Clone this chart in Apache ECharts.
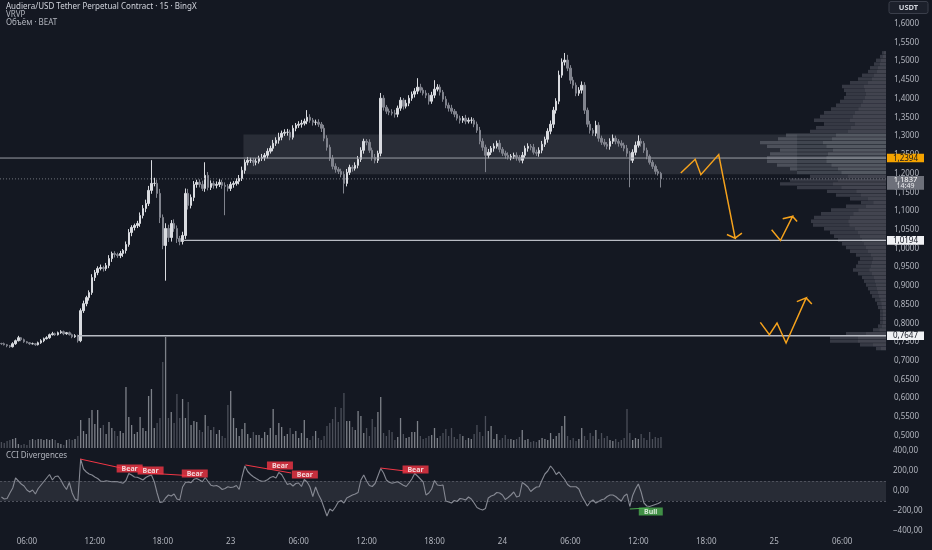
<!DOCTYPE html>
<html><head><meta charset="utf-8">
<script src="https://cdn.jsdelivr.net/npm/echarts@6/dist/echarts.min.js"></script>
<style>html,body{margin:0;padding:0;background:#141822;}#c{width:932px;height:550px;}</style>
</head><body><div id="c"></div>
<script>
// ---------- DATA ----------
const firstOpen = 0.7440;
const closes = [
0.7435,0.7408,0.7381,0.7354,0.7435,0.7515,0.7595,0.7542,0.7488,0.7461,
0.7435,0.7435,0.7408,0.7461,0.7515,0.7568,0.7595,0.7675,0.7702,0.7675,
0.7729,0.7756,0.7702,0.7729,0.7675,0.7622,0.7649,0.7515,0.8318,0.8505,
0.8666,0.8800,0.9201,0.9335,0.9442,0.9469,0.9442,0.9522,0.9710,0.9844,
0.9817,0.9790,0.9844,0.9924,1.0085,1.0406,1.0540,1.0593,1.0647,1.0861,
1.1048,1.1182,1.1530,1.1717,1.1717,1.1450,1.0807,1.0058,1.0513,1.0272,
1.0647,1.0513,1.0245,1.0165,1.0325,1.1450,1.1128,1.1343,1.1690,1.1744,
1.1690,1.1583,1.1931,1.1610,1.1717,1.1664,1.1690,1.1744,1.1664,1.1637,
1.1583,1.1690,1.1717,1.1771,1.1851,1.2065,1.2279,1.2333,1.2333,1.2279,
1.2306,1.2386,1.2413,1.2467,1.2574,1.2654,1.2788,1.2868,1.2949,1.3056,
1.3082,1.3082,1.2949,1.3189,1.3270,1.3297,1.3323,1.3377,1.3484,1.3404,
1.3350,1.3350,1.3297,1.3189,1.2922,1.2681,1.2386,1.2172,1.2092,1.2038,
1.1958,1.1717,1.2012,1.2146,1.2119,1.2199,1.2360,1.2601,1.2841,1.2815,
1.2601,1.2413,1.2333,1.2520,1.3992,1.3752,1.3644,1.3618,1.3591,1.3564,
1.3725,1.3939,1.3778,1.3859,1.3992,1.4100,1.4180,1.4287,1.4207,1.4126,
1.4073,1.3912,1.4073,1.4233,1.4287,1.4153,1.3966,1.3805,1.3725,1.3644,
1.3564,1.3457,1.3404,1.3457,1.3377,1.3404,1.3404,1.3297,1.3136,1.2841,
1.2681,1.2467,1.2547,1.2654,1.2708,1.2788,1.2627,1.2520,1.2467,1.2413,
1.2440,1.2467,1.2413,1.2333,1.2467,1.2654,1.2708,1.2681,1.2547,1.2520,
1.2601,1.2761,1.2895,1.3109,1.3297,1.3671,1.3912,1.4608,1.4956,1.5010,
1.4795,1.4474,1.4340,1.4126,1.4207,1.4340,1.3671,1.3297,1.3136,1.3056,
1.3270,1.2922,1.2815,1.2761,1.2708,1.2841,1.2922,1.2841,1.2788,1.2734,
1.2654,1.2520,1.2333,1.2547,1.2734,1.2841,1.2788,1.2601,1.2440,1.2279,
1.2172,1.2038,1.1985,1.1837];
// wick sizes in 0.001 price units
const wickUp = [
2,3,2,2,4,3,5,2,3,2,2,3,2,3,4,3,4,3,5,3,
3,4,3,2,3,3,4,3,6,8,5,6,9,7,6,8,5,7,9,5,
6,5,7,4,8,9,6,5,7,8,9,10,12,62,15,10,12,8,14,10,
9,11,8,7,10,13,12,8,9,7,8,10,35,9,8,7,8,9,7,8,
6,7,6,8,9,10,8,9,7,6,8,7,9,6,8,7,9,8,12,7,
8,9,7,8,6,8,9,7,19,8,6,7,8,6,9,8,7,9,8,6,
7,8,9,7,6,8,9,8,7,6,8,7,9,7,14,8,6,7,8,9,
7,8,6,9,8,7,8,24,9,7,8,6,9,24,8,7,6,8,7,9,
6,8,7,6,9,7,8,6,7,9,8,7,9,6,8,7,9,6,7,8,
6,7,8,6,9,7,8,6,9,7,8,9,7,8,10,9,8,12,10,19,
14,8,9,7,8,10,8,7,9,6,12,8,7,9,6,8,10,7,6,8,
7,9,6,8,10,16,8,6,7,5,6,5,6,4];
const wickDn = [
3,2,4,3,2,3,2,4,3,2,3,2,3,2,3,4,2,3,2,3,
2,3,4,3,2,4,3,5,4,6,7,8,6,9,7,5,8,6,7,9,
8,6,7,9,8,6,10,8,7,9,8,10,7,9,8,12,15,10,94,12,
11,9,12,10,8,9,11,8,10,9,8,7,9,8,7,9,8,7,9,77,
8,7,9,6,8,7,9,8,7,10,8,6,7,9,8,6,8,7,9,8,
7,9,8,6,8,7,9,6,8,7,9,8,7,10,8,9,7,8,9,7,
8,27,8,7,9,6,8,7,9,8,7,9,8,7,8,9,7,8,6,9,
8,7,9,6,8,7,9,8,7,6,8,9,7,8,6,9,7,8,9,7,
8,6,9,7,8,6,9,8,7,8,9,45,8,7,9,6,8,7,9,6,
8,7,9,6,8,7,9,8,6,7,9,8,7,9,8,10,9,8,7,9,
8,10,9,8,7,9,10,8,9,7,8,9,7,6,8,9,7,8,9,7,
8,9,72,7,8,6,9,7,8,6,7,8,6,23];
const volumes = [
6,5,7,8,9,10,4,3,4,3,8,9,8,9,9,8,9,8,9,8,
5,4,3,8,9,8,9,12,28,17,14,30,38,24,38,20,23,14,26,20,
17,12,17,15,61,31,23,14,16,31,20,17,52,59,20,25,30,86,111,30,
36,25,54,30,49,30,46,23,27,26,18,16,33,22,18,21,14,18,12,10,
43,57,30,20,12,19,25,14,10,16,13,13,10,16,13,20,39,13,25,21,
12,14,20,14,17,10,15,28,10,8,12,17,10,8,12,22,25,29,41,26,
40,55,27,27,21,18,37,32,15,20,12,29,21,36,51,15,12,18,16,8,
11,30,14,10,11,16,16,27,12,9,10,12,13,20,10,12,15,19,12,20,
11,9,14,12,8,10,9,14,23,16,12,32,17,22,9,14,8,10,13,9,
9,8,9,11,18,8,9,6,7,6,8,10,9,8,15,9,12,15,22,32,
12,8,10,7,9,20,12,8,15,12,18,9,15,10,12,8,7,9,6,8,
10,39,15,8,10,9,14,10,8,16,9,11,10,11];
const cci = [
-60,-80,-75,-20,30,130,100,70,50,10,
-10,10,-30,25,60,95,130,165,110,145,
150,110,55,15,85,-20,-80,-95,320,220,
190,170,160,140,125,100,95,103,98,93,
95,93,85,78,105,175,160,140,137,125,
110,135,150,160,93,-20,-115,-110,-70,-40,
-50,-30,-80,-90,40,85,90,83,117,125,
110,93,135,95,58,50,55,40,15,25,
43,35,40,55,15,140,250,195,165,143,
125,108,98,100,112,135,145,130,185,165,
115,65,75,50,75,80,45,115,90,40,
-55,40,-35,-90,-170,-250,-180,-200,-160,-110,
-95,-120,-70,-55,-40,-30,-15,110,160,100,
55,45,75,150,225,180,110,88,78,85,
92,75,58,45,80,120,175,150,120,90,
-40,-20,20,105,60,55,60,-100,-110,-120,
-95,-105,-75,-80,-90,-60,-80,-120,-165,-180,
-190,-175,-70,-50,-40,-15,-20,-40,-85,-65,
-40,-10,-60,-50,85,65,40,-5,20,40,
43,110,170,200,250,215,165,190,150,115,
65,43,43,43,20,-50,-100,-150,-110,-90,
-120,-105,-88,-80,-55,-40,-40,-55,-80,-100,
-50,-30,-155,-45,20,70,-10,-120,-150,-155,
-145,-135,-125,-110];
// Volume profile (VRVP): price level -> volume
const vrvpLevels = [1.52,1.51,1.50,1.49,1.48,1.47,1.46,1.45,1.44,1.43,1.42,1.41,1.40,1.39,1.38,1.37,1.36,1.35,1.34,1.33,
1.32,1.31,1.30,1.29,1.28,1.27,1.26,1.25,1.24,1.23,1.22,1.21,1.20,1.19,1.18,1.17,1.16,1.15,1.14,1.13,
1.12,1.11,1.10,1.09,1.08,1.07,1.06,1.05,1.04,1.03,1.02,1.01,1.00,0.99,0.98,0.97,0.96,0.95,0.94,0.93,
0.92,0.91,0.90,0.89,0.88,0.87,0.86,0.85,0.84,0.83,0.82,0.81,0.80,0.79,0.78,0.77,0.76,0.75,0.74,0.73];
const vrvpVolumes = [4,6,10,12,16,18,24,28,36,44,42,40,42,46,50,55,62,66,72,62,
70,76,100,108,126,119,106,116,119,119,109,96,89,76,96,106,89,59,50,36,
25,40,55,65,72,75,73,62,56,52,48,44,40,36,30,26,28,30,33,28,
24,22,20,18,16,14,11,9,8,6,6,6,6,8,13,40,56,56,26,10];
const vaHigh = 1.302, vaLow = 1.196, vaStartSlot = 85.5, vaEndSlot = 281.1;
// horizontal levels [price, startSlot]
const levelLines = [[1.2394, -0.5], [1.0194, 64.2], [0.7647, 27.0]];
const lastPrice = 1.1837, countdown = '14:49';
// drawn arrows: [slot, price] points
const arrows = [
  [[240.0,1.1993],[245.1,1.2360],[247.1,1.1950],[253.4,1.2486],[259.2,1.0253],[256.3,1.0352],[259.2,1.0253],[261.6,1.0387]],
  [[272.1,1.0478],[275.2,1.0192],[279.5,1.0834],[276.0,1.0773],[279.5,1.0834],[281.1,1.0700]],
  [[268.1,0.8005],[271.3,0.7676],[274.0,0.7989],[277.2,0.7453],[284.3,0.8658],[281.0,0.8559],[284.3,0.8658],[286.3,0.8497]]
];
// CCI divergences
const bearLines = [[[27.8,320],[45.5,210]], [[51.1,180],[68.5,150]], [[86.2,260],[102.4,180]], [[133.9,230],[145.6,190]]];
const bullLines = [[[222,-180],[228.7,-170]]];
const bearLabels = [[45.3,225],[52.7,205],[68.3,175],[98.4,255],[107.2,165],[146.3,215]];
const bullLabels = [[229.4,-205]];
const priceTicks = [1.60,1.55,1.50,1.45,1.40,1.35,1.30,1.25,1.20,1.15,1.10,1.05,1.00,0.95,0.90,0.85,0.80,0.75,0.70,0.65,0.60,0.55,0.50];

// ---------- TIME CATEGORIES (15 min bars starting day 22, 03:45) ----------
const N_SLOTS = 313, START_MIN = 3*60+45, START_DAY = 22;
const categories = [];
for (let i = 0; i < N_SLOTS; i++) {
  const m = START_MIN + 15*i;
  const day = START_DAY + Math.floor(m/1440);
  const hh = Math.floor((m%1440)/60), mm = m%60;
  categories.push(day + ' ' + String(hh).padStart(2,'0') + ':' + String(mm).padStart(2,'0'));
}
function isTick(idx, val) { const t = val.split(' ')[1]; const [h, m] = t.split(':').map(Number); return m === 0 && h % 6 === 0; }
function fmtTick(val) { const [d, t] = val.split(' '); return t === '00:00' ? d : t; }

// ---------- BUILD ----------
const FONT = 'Noto Sans';
const TXT = '#b2b5be';
const UP = '#d9dbe0', DOWN = '#80838d';
const candleData = closes.map((c, i) => {
  const o = i === 0 ? firstOpen : closes[i-1];
  return [o, c, Math.min(o, c) - wickDn[i]/1000, Math.max(o, c) + wickUp[i]/1000];
});
const volData = volumes.map((v, i) => ({
  value: v,
  itemStyle: { color: candleData[i][1] >= candleData[i][0] ? 'rgba(190,193,200,0.62)' : 'rgba(120,123,134,0.55)' }
}));
const BIN = 0.01;
const gridBase = { left: 0, right: 46, containLabel: false, outerBoundsMode: 'none' };
const catAxis = (gi, showLabels) => ({
  type: 'category', gridIndex: gi, data: categories, boundaryGap: true,
  axisLine: { show: false }, axisTick: { show: false }, splitLine: { show: false },
  axisLabel: showLabels ? { show: true, interval: isTick, formatter: fmtTick, color: TXT, fontSize: 8, fontFamily: FONT, margin: 7 } : { show: false }
});
const valX = (gi) => ({ type: 'value', gridIndex: gi, min: -0.5, max: N_SLOTS - 0.5, show: false });

const series = [];
// volume profile
series.push({
  type: 'custom', xAxisIndex: 2, yAxisIndex: 0, z: 1, silent: true,
  data: vrvpLevels.map((p, i) => [p, vrvpVolumes[i]]),
  renderItem: (params, api) => {
    const p = api.value(0), v = api.value(1);
    const a = api.coord([v, p + BIN/2]);
    const b = api.coord([0, p - BIN/2]);
    const w = b[0] - a[0], h = Math.max(0.5, b[1] - a[1] - 0.35);
    const inVA = p <= vaHigh + 0.005 && p >= vaLow - 0.005;
    return { type: 'group', children: [
      { type: 'rect', shape: { x: a[0], y: a[1], width: w, height: h }, style: { fill: inVA ? 'rgba(118,121,132,0.46)' : 'rgba(105,108,119,0.40)' } },
      { type: 'rect', shape: { x: b[0] - w*0.5, y: a[1], width: w*0.5, height: h }, style: { fill: inVA ? 'rgba(160,163,172,0.20)' : 'rgba(140,143,152,0.14)' } }
    ]};
  }
});
// value area box
series.push({
  type: 'line', xAxisIndex: 1, yAxisIndex: 0, data: [], z: 2, silent: true,
  markArea: { silent: true, itemStyle: { color: 'rgba(149,152,161,0.17)' },
    data: [[{ coord: [vaStartSlot, vaHigh] }, { coord: [vaEndSlot, vaLow] }]] }
});
// candles
series.push({
  type: 'candlestick', xAxisIndex: 0, yAxisIndex: 0, data: candleData, barWidth: 2, z: 4,
  itemStyle: { color: UP, color0: DOWN, borderColor: UP, borderColor0: DOWN, borderWidth: 1 }
});
// level lines
levelLines.forEach(([p, s], k) => series.push({
  type: 'line', xAxisIndex: 1, yAxisIndex: 0, symbol: 'none', silent: true, z: 6,
  data: [[s, p], [N_SLOTS - 0.5, p]],
  lineStyle: { color: k === 0 ? '#9a9da6' : '#b8bbc3', width: k === 0 ? 1 : 1.4 }
}));
// last price dotted line
series.push({
  type: 'line', xAxisIndex: 1, yAxisIndex: 0, symbol: 'none', silent: true, z: 6,
  data: [[-0.5, lastPrice], [N_SLOTS - 0.5, lastPrice]],
  lineStyle: { color: '#6f727c', width: 1, type: [1, 2] }
});
// arrows
arrows.forEach(pts => series.push({
  type: 'line', xAxisIndex: 1, yAxisIndex: 0, symbol: 'none', silent: true, z: 7,
  data: pts, lineStyle: { color: '#f5a21c', width: 1.5, join: 'miter' }
}));
// volume
series.push({ type: 'bar', xAxisIndex: 3, yAxisIndex: 1, data: volData, barWidth: 1.3, z: 3, silent: true });
// CCI
series.push({
  type: 'line', xAxisIndex: 4, yAxisIndex: 2, data: cci, symbol: 'none', silent: true, z: 5,
  lineStyle: { color: '#868993', width: 1.1 },
  markArea: { silent: true, itemStyle: { color: 'rgba(120,123,134,0.2)' }, data: [[{ yAxis: 100 }, { yAxis: -100 }]] },
  markLine: { silent: true, symbol: 'none', label: { show: false }, lineStyle: { color: '#4e515c', type: [2, 2], width: 1 },
    data: [{ yAxis: 100 }, { yAxis: -100 }] }
});
bearLines.forEach(seg => series.push({
  type: 'line', xAxisIndex: 5, yAxisIndex: 2, data: seg, symbol: 'none', silent: true, z: 6,
  lineStyle: { color: '#f23645', width: 1 }
}));
bullLines.forEach(seg => series.push({
  type: 'line', xAxisIndex: 5, yAxisIndex: 2, data: seg, symbol: 'none', silent: true, z: 6,
  lineStyle: { color: '#4caf50', width: 1 }
}));
series.push({
  type: 'scatter', xAxisIndex: 5, yAxisIndex: 2, symbol: 'rect', symbolSize: [26, 8], silent: true, z: 8,
  itemStyle: { color: '#f23645' },
  label: { show: true, position: 'inside', formatter: 'Bear', color: '#ffffff', fontSize: 7, fontWeight: 'bold', fontFamily: FONT },
  data: bearLabels
});
series.push({
  type: 'scatter', xAxisIndex: 5, yAxisIndex: 2, symbol: 'rect', symbolSize: [24, 8], silent: true, z: 8,
  itemStyle: { color: '#4caf50' },
  label: { show: true, position: 'inside', formatter: 'Bull', color: '#ffffff', fontSize: 7, fontWeight: 'bold', fontFamily: FONT },
  data: bullLabels
});

const chart = echarts.init(document.getElementById('c'));
chart.setOption({
  animation: false,
  backgroundColor: '#141822',
  grid: [
    Object.assign({ top: 4.3, height: 449.3 }, gridBase),
    Object.assign({ top: 330, height: 118 }, gridBase),
    Object.assign({ top: 451, height: 80 }, gridBase)
  ],
  xAxis: [
    catAxis(0, false),
    valX(0),
    { type: 'value', gridIndex: 0, inverse: true, min: 0, max: 886, show: false },
    catAxis(1, false),
    catAxis(2, true),
    valX(2)
  ],
  yAxis: [
    { type: 'value', gridIndex: 0, position: 'right', min: 0.45, max: 1.65, interval: 0.05,
      axisLine: { show: false }, axisTick: { show: false }, splitLine: { show: false },
      axisLabel: { show: false } },
    { type: 'value', gridIndex: 1, min: 0, max: 118, show: false },
    { type: 'value', gridIndex: 2, position: 'right', min: -400, max: 400, interval: 200,
      axisLine: { show: false }, axisTick: { show: false }, splitLine: { show: false },
      axisLabel: { color: TXT, fontSize: 8, fontFamily: FONT, margin: 7, showMinLabel: true, showMaxLabel: true,
        formatter: v => (v < 0 ? '\u2212' : '') + Math.abs(v).toFixed(2).replace('.', ',') } }
  ],
  series: series
});

// ---------- price scale labels, tags & texts ----------
const px = p => chart.convertToPixel({ yAxisIndex: 0 }, p);
const fmtP = p => p.toFixed(4).replace('.', ',');
const elements = [];
priceTicks.forEach((p, k) => elements.push({
  type: 'text', id: 'pl' + k, z: 200, x: 894, y: Math.round(px(p)) + 0.5,
  style: { text: fmtP(p), fill: TXT, fontSize: 8, fontFamily: FONT, align: 'left', verticalAlign: 'middle' }
}));
const TAG_X = 887, TAG_W = 37;
function tag(id, p, text, bg, fg) {
  const y = px(p);
  elements.push({ type: 'rect', id: id + 'r', z: 300, shape: { x: TAG_X, y: y - 4.3, width: TAG_W, height: 8.6 }, style: { fill: bg } });
  elements.push({ type: 'text', id: id + 't', z: 301, x: TAG_X + TAG_W/2, y: y + 0.3, style: { text: text, fill: fg, fontSize: 8, fontFamily: FONT, align: 'center', verticalAlign: 'middle' } });
}
tag('t0', levelLines[0][0], fmtP(levelLines[0][0]), '#f5a300', '#131722');
tag('t1', levelLines[1][0], fmtP(levelLines[1][0]), '#f0f1f4', '#131722');
tag('t2', levelLines[2][0], fmtP(levelLines[2][0]), '#f0f1f4', '#131722');
const yl = px(lastPrice);
elements.push(
  { type: 'rect', id: 'lpr', z: 300, shape: { x: TAG_X, y: yl - 2.8, width: TAG_W, height: 13.6 }, style: { fill: '#6d707a' } },
  { type: 'text', id: 'lpt', z: 301, x: TAG_X + TAG_W/2, y: yl + 0.8, style: { text: fmtP(lastPrice), fill: '#ffffff', fontSize: 7.5, fontFamily: FONT, align: 'center', verticalAlign: 'middle' } },
  { type: 'text', id: 'cdt', z: 301, x: TAG_X + TAG_W/2, y: yl + 7.0, style: { text: countdown, fill: '#e8e9ec', fontSize: 7, fontFamily: FONT, align: 'center', verticalAlign: 'middle' } },
  { type: 'rect', id: 'ur', z: 300, shape: { x: 889, y: 1.5, width: 39, height: 12, r: 2 }, style: { fill: '#1c202b', stroke: '#3a3e4a', lineWidth: 1 } },
  { type: 'text', id: 'ut', z: 301, x: 908.5, y: 7.8, style: { text: 'USDT', fill: '#d1d4dc', fontSize: 7.5, fontWeight: 'bold', fontFamily: FONT, align: 'center', verticalAlign: 'middle' } },
  { type: 'text', id: 'h1', z: 301, x: 6, y: 7, style: { text: 'Audiera/USD Tether Perpetual Contract \u00b7 15 \u00b7 BingX', fill: '#d1d4dc', fontSize: 8, fontFamily: FONT, verticalAlign: 'middle' } },
  { type: 'text', id: 'h2', z: 301, x: 6, y: 15, style: { text: 'VRVP', fill: '#b2b5be', fontSize: 8, fontFamily: FONT, verticalAlign: 'middle' } },
  { type: 'text', id: 'h3', z: 301, x: 6, y: 23, style: { text: '\u041e\u0431\u044a\u0451\u043c \u00b7 BEAT', fill: '#b2b5be', fontSize: 8, fontFamily: FONT, verticalAlign: 'middle' } },
  { type: 'text', id: 'h4', z: 301, x: 6, y: 456, style: { text: 'CCI Divergences', fill: '#b2b5be', fontSize: 8, fontFamily: FONT, verticalAlign: 'middle' } }
);
chart.setOption({ graphic: { elements: elements } });
</script>
</body></html>
